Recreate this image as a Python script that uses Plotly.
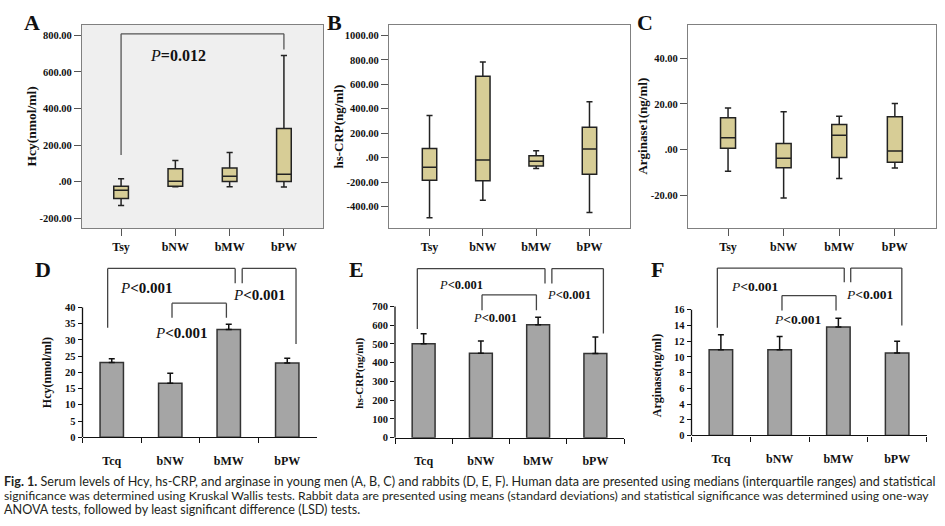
import plotly.graph_objects as go

W, H = 945, 526

# ---------------- data ----------------
human_groups = ["Tsy", "bNW", "bMW", "bPW"]
rabbit_groups = ["Tcq", "bNW", "bMW", "bPW"]

# A: Hcy (young men) - box statistics
hcy_low = [-131, -28, -28, -30]
hcy_q1 = [-93, -25, 0, 0]
hcy_med = [-48, 2, 29, 40]
hcy_q3 = [-25, 70, 74, 290]
hcy_high = [15, 115, 159, 689]

# B: hs-CRP (young men)
crp_low = [-491, -348, -89, -448]
crp_q1 = [-184, -189, -68, -135]
crp_med = [-79, -19, -30, 70]
crp_q3 = [75, 666, 16, 248]
crp_high = [345, 782, 57, 458]

# C: Arginase1 (young men)
arg_low = [-9.5, -21.3, -12.7, -8.1]
arg_q1 = [0.6, -8.0, -3.5, -5.6]
arg_med = [5.2, -3.8, 6.3, -0.6]
arg_q3 = [14.0, 2.7, 11.0, 14.4]
arg_high = [18.2, 16.6, 14.6, 20.2]

# D-F: rabbits, mean and SD
rab_hcy_mean = [23.0, 16.6, 33.2, 22.9]
rab_hcy_sd = [1.2, 3.1, 1.6, 1.4]
rab_crp_mean = [501, 450, 602, 449]
rab_crp_sd = [53, 65, 40, 88]
rab_arg_mean = [10.9, 10.9, 13.8, 10.5]
rab_arg_sd = [1.9, 1.7, 1.1, 1.5]

# tick labels
hcy_ticks = [-200, 0, 200, 400, 600, 800]
crp_ticks = [-400, -200, 0, 200, 400, 600, 800, 1000]
arg_ticks = [-20, 0, 20, 40]


def fmt(v):
    return ".00" if v == 0 else f"{v:.2f}"


# ---------------- helpers ----------------
def px_x(p):
    return p / W


def px_y(p):
    return 1 - p / H


SERIF = "Liberation Serif"
BOX_FILL = "#d7cd96"
DARK = "#222222"

fig = go.Figure()

box_sets = [
    ("x", "y", hcy_low, hcy_q1, hcy_med, hcy_q3, hcy_high),
    ("x2", "y2", crp_low, crp_q1, crp_med, crp_q3, crp_high),
    ("x3", "y3", arg_low, arg_q1, arg_med, arg_q3, arg_high),
]
for xa, ya, lo, q1, md, q3, hi in box_sets:
    fig.add_trace(go.Box(
        x=human_groups, lowerfence=lo, q1=q1, median=md, q3=q3, upperfence=hi,
        fillcolor=BOX_FILL, line=dict(color=DARK, width=1.5),
        width=0.27, whiskerwidth=0.42, boxpoints=False,
        xaxis=xa, yaxis=ya, showlegend=False, hoverinfo="skip"))

bar_sets = [
    ("x4", "y4", rab_hcy_mean, rab_hcy_sd),
    ("x5", "y5", rab_crp_mean, rab_crp_sd),
    ("x6", "y6", rab_arg_mean, rab_arg_sd),
]
for xa, ya, m, sd in bar_sets:
    fig.add_trace(go.Bar(
        x=rabbit_groups, y=m, width=0.4,
        marker=dict(color="#a5a5a5", line=dict(color="#333333", width=1.5)),
        error_y=dict(type="data", array=sd, arrayminus=[0] * len(sd), symmetric=False,
                     color="#111111", thickness=1.5, width=3),
        xaxis=xa, yaxis=ya, showlegend=False, hoverinfo="skip"))

# ---------------- axes ----------------
top_dom = [px_y(231), px_y(25)]
box_x_style = dict(type="category", showline=True, mirror=True, linecolor="#808080", linewidth=1.2,
                   ticks="outside", ticklen=7, tickcolor="#555555", showgrid=False, zeroline=False,
                   tickfont=dict(family=SERIF, size=12, color="#111111", weight="bold"))
box_y_style = dict(showline=True, mirror=True, linecolor="#808080", linewidth=1.2,
                   ticks="outside", ticklen=7, tickcolor="#555555", showgrid=False, zeroline=False,
                   tickfont=dict(family=SERIF, size=10.5, color="#111111", weight="bold"))

layout_axes = dict(
    xaxis=dict(domain=[px_x(82), px_x(323)], anchor="y", range=[-0.72, 3.72], **box_x_style),
    yaxis=dict(domain=top_dom, anchor="x", range=[-256, 858], tickvals=hcy_ticks,
               ticktext=[fmt(v) for v in hcy_ticks], **box_y_style),
    xaxis2=dict(domain=[px_x(389), px_x(630)], anchor="y2", range=[-0.76, 3.76], **box_x_style),
    yaxis2=dict(domain=top_dom, anchor="x2", range=[-578, 1087], tickvals=crp_ticks,
                ticktext=[fmt(v) for v in crp_ticks], **box_y_style),
    xaxis3=dict(domain=[px_x(688), px_x(936)], anchor="y3", range=[-0.72, 3.74], **box_x_style),
    yaxis3=dict(domain=top_dom, anchor="x3", range=[-34.6, 54.8], tickvals=arg_ticks,
                ticktext=[fmt(v) for v in arg_ticks], **box_y_style),
)

bar_x_style = dict(type="category", range=[-0.5, 3.5], showline=True, linecolor="#111111", linewidth=1.3,
                   ticks="outside", tickson="boundaries", ticklen=5, tickcolor="#111111",
                   ticklabelstandoff=12, showgrid=False, zeroline=False,
                   tickfont=dict(family=SERIF, size=12, color="#111111", weight="bold"))
bar_y_style = dict(showline=False, ticks="outside", ticklen=4, tickcolor="#111111",
                   showgrid=False, zeroline=False,
                   tickfont=dict(family=SERIF, size=10.5, color="#111111", weight="bold"))

layout_axes.update(
    xaxis4=dict(domain=[px_x(82.5), px_x(316.5)], anchor="y4", **bar_x_style),
    yaxis4=dict(domain=[px_y(442.3), px_y(262)], anchor="x4", range=[0, 54.9],
                tickvals=list(range(0, 41, 5)), **bar_y_style),
    xaxis5=dict(domain=[px_x(395), px_x(624)], anchor="y5", **bar_x_style),
    yaxis5=dict(domain=[px_y(442.7), px_y(262)], anchor="x5", range=[0, 953],
                tickvals=list(range(0, 701, 100)), **bar_y_style),
    xaxis6=dict(domain=[px_x(691.5), px_x(926.5)], anchor="y6", **bar_x_style),
    yaxis6=dict(domain=[px_y(440.5), px_y(262)], anchor="x6", range=[0, 22.45],
                tickvals=list(range(0, 17, 2)), **bar_y_style),
)

# ---------------- shapes ----------------
shapes = []
# grey background of panel A
shapes.append(dict(type="rect", xref="x domain", yref="y domain", x0=0, x1=1, y0=0, y1=1,
                   fillcolor="#efefef", line=dict(width=0), layer="below"))
# y-axis lines of bar panels (0 .. top tick)
for ax, top in (("4", 40), ("5", 700), ("6", 16)):
    shapes.append(dict(type="line", xref=f"x{ax} domain", yref=f"y{ax}", x0=0, x1=0, y0=0, y1=top,
                       line=dict(color="#111111", width=1.3)))


def bracket(ax, xl, yl, xr, yr, ytop, color="#444444", w=1.3):
    xr_, yr_ = f"x{ax}" if ax else "x", f"y{ax}" if ax else "y"
    segs = [(xl, yl, xl, ytop), (xl, ytop, xr, ytop), (xr, ytop, xr, yr)]
    for x0, y0, x1, y1 in segs:
        shapes.append(dict(type="line", xref=xr_, yref=yr_, x0=x0, y0=y0, x1=x1, y1=y1,
                           line=dict(color=color, width=w)))


# A bracket
bracket("", 0, 145, 3, 722, 808, color="#555555")
# D brackets
bracket("4", -0.07, 33.7, 2.11, 47.4, 52)
bracket("4", 2.23, 47.4, 3.15, 28.7, 52)
bracket("4", 1.03, 36.8, 1.96, 36.8, 41.3)
# E brackets
bracket("5", -0.11, 580, 2.12, 823, 902)
bracket("5", 2.24, 823, 3.14, 556, 902)
bracket("5", 1.02, 679, 1.97, 679, 762)
# F brackets
bracket("6", -0.06, 13.7, 2.10, 19.5, 21.3)
bracket("6", 2.21, 19.5, 3.08, 14.0, 21.3)
bracket("6", 1.04, 15.9, 1.96, 15.9, 17.8)

# ---------------- annotations ----------------
ann = []


def ptext(ax, x, y, txt, size):
    ann.append(dict(xref=f"x{ax}" if ax else "x", yref=f"y{ax}" if ax else "y", x=x, y=y,
                    text=txt, showarrow=False, xanchor="center", yanchor="middle",
                    font=dict(family=SERIF, size=size, color="#111111")))


P_LT = "<i>P</i><b>&lt;0.001</b>"
ptext("", 1.05, 690, "<i>P</i><b>=0.012</b>", 16)
ptext("4", 0.59, 45.9, P_LT, 15)
ptext("4", 1.18, 32.0, P_LT, 15)
ptext("4", 2.51, 43.9, P_LT, 15)
ptext("5", 0.65, 815, P_LT, 12.5)
ptext("5", 1.25, 638, P_LT, 12.5)
ptext("5", 2.54, 762, P_LT, 12.5)
ptext("6", 0.58, 19.0, P_LT, 13.5)
ptext("6", 1.31, 14.7, P_LT, 13.5)
ptext("6", 2.54, 17.9, P_LT, 13.5)

# panel letters
for letter, cx, cy in (("A", 32, 23), ("B", 334, 23), ("C", 645, 23),
                       ("D", 42.5, 273), ("E", 356, 273), ("F", 657, 273)):
    ann.append(dict(xref="paper", yref="paper", x=px_x(cx), y=px_y(cy), text=f"<b>{letter}</b>",
                    showarrow=False, xanchor="center", yanchor="middle",
                    font=dict(family=SERIF, size=22, color="#111111")))

# y-axis titles (rotated)
for title, cx, cy, size in (("Hcy(nmol/ml)", 32, 128, 13.5), ("hs-CRP(ng/ml)", 339, 128, 13),
                            ("Arginase1(ng/ml)", 643, 128, 13),
                            ("Hcy(nmol/ml)", 46.5, 377, 12), ("hs-CRP(ng/ml)", 360, 378, 11),
                            ("Arginase(ng/ml)", 656.5, 380, 12)):
    ann.append(dict(xref="paper", yref="paper", x=px_x(cx), y=px_y(cy), text=f"<b>{title}</b>",
                    textangle=-90, showarrow=False, xanchor="center", yanchor="middle",
                    font=dict(family=SERIF, size=size, color="#111111")))

# caption
caption = [
    "<b>Fig. 1.</b> Serum levels of Hcy, hs-CRP, and arginase in young men (A, B, C) and rabbits (D, E, F). "
    "Human data are presented using medians (interquartile ranges) and statistical",
    "significance was determined using Kruskal Wallis tests. Rabbit data are presented using means "
    "(standard deviations) and statistical significance was determined using one-way",
    "ANOVA tests, followed by least significant difference (LSD) tests.",
]
for line, cy, fs in zip(caption, (487.5, 501.5, 515.5), (12.6, 12.2, 12.6)):
    ann.append(dict(xref="paper", yref="paper", x=px_x(1.5), y=px_y(cy), text=line,
                    showarrow=False, xanchor="left", yanchor="middle",
                    font=dict(family="Lato", size=fs, color="#231f20")))

fig.update_layout(
    width=W, height=H, margin=dict(l=0, r=0, t=0, b=0),
    paper_bgcolor="white", plot_bgcolor="rgba(0,0,0,0)",
    shapes=shapes, annotations=ann, bargap=0.6,
    **layout_axes,
)

fig.write_html("out.html", config={"displayModeBar": False},
               post_script="document.body.style.margin='0';document.body.style.overflow='hidden';")
